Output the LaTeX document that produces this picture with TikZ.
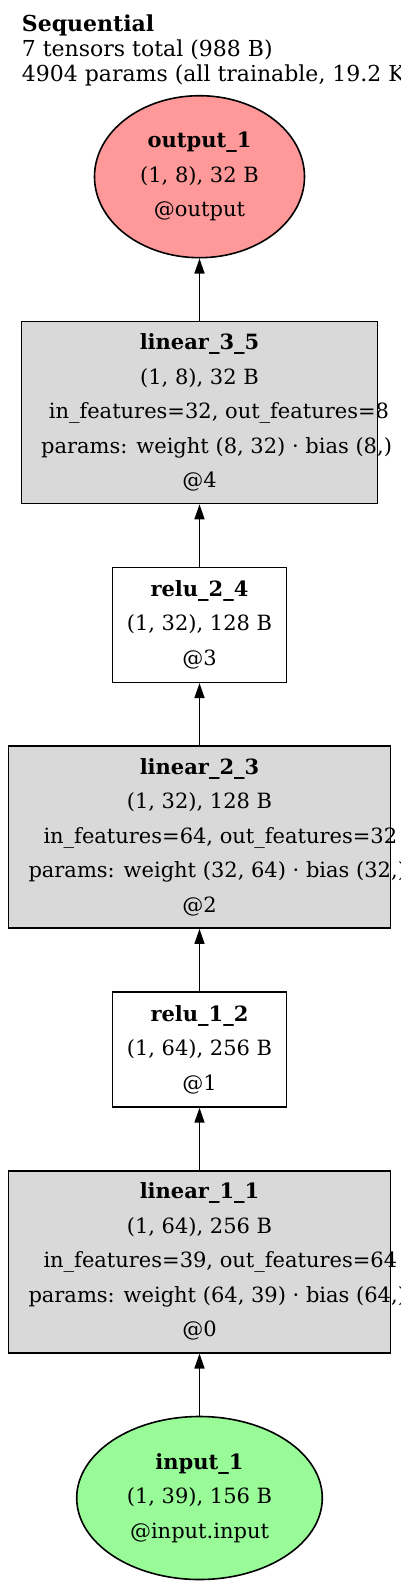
\documentclass[tikz,border=0pt]{standalone}
\usepackage{fontspec}
\setmainfont{DejaVu Serif}
\definecolor{outputRed}{RGB}{255,153,153}
\definecolor{inputGreen}{RGB}{152,251,152}
\definecolor{layerGray}{RGB}{217,217,217}
\usetikzlibrary{shapes,arrows.meta,positioning}

\begin{document}
\begin{tikzpicture}[
  x=1pt, y=-1pt,
  node distance=62.2pt,
  layer/.style={
    draw=black, fill=layerGray, line width=1.6pt, inner sep=0pt,
    align=center, font=\fontsize{21}{34.5}\selectfont,
    minimum width=381.7pt, minimum height=182pt
  },
  act/.style={
    draw=black, fill=white, line width=1.6pt, inner sep=0pt,
    align=center, font=\fontsize{21}{34.5}\selectfont,
    minimum width=174pt, minimum height=115pt
  },
  io/.style={
    ellipse, draw=black, line width=1.6pt, inner sep=0pt,
    align=center, font=\fontsize{21}{34.5}\selectfont
  },
  arr/.style={-{Triangle[length=15pt,width=10pt]}, draw=black, line width=1.6pt}
]
  \useasboundingbox (0,0) rectangle (400,1588);
  \node[anchor=north west, inner sep=0pt, align=left, font=\fontsize{22}{25}\selectfont] (title) at (21.7,15)
    {\textbf{Sequential}\\7 tensors total (988 B)\\4904 params (all trainable, 19.2 KB)};

  \node[io, fill=inputGreen, minimum width=245.6pt, minimum height=163pt] (input_1) at (199.5,1498)
    {\textbf{input\_1}\\(1, 39), 156 B\\@input.input};
  \node[layer, above=of input_1] (linear_1_1)
    {\textbf{linear\_1\_1}\\(1, 64), 256 B\\\makebox[312pt][l]{in\_features=39, out\_features=64}\\\makebox[342pt][l]{params: weight (64, 39) · bias (64,)}\\@0};
  \node[act, above=of linear_1_1] (relu_1_2)
    {\textbf{relu\_1\_2}\\(1, 64), 256 B\\@1};
  \node[layer, above=of relu_1_2] (linear_2_3)
    {\textbf{linear\_2\_3}\\(1, 32), 128 B\\\makebox[312pt][l]{in\_features=64, out\_features=32}\\\makebox[342pt][l]{params: weight (32, 64) · bias (32,)}\\@2};
  \node[act, above=of linear_2_3] (relu_2_4)
    {\textbf{relu\_2\_4}\\(1, 32), 128 B\\@3};
  \node[layer, above=of relu_2_4, minimum width=356pt] (linear_3_5)
    {\textbf{linear\_3\_5}\\(1, 8), 32 B\\\makebox[301.4pt][l]{in\_features=32, out\_features=8}\\\makebox[316.6pt][l]{params: weight (8, 32) · bias (8,)}\\@4};
  \node[io, fill=outputRed, minimum width=210pt, minimum height=162pt, above=of linear_3_5] (output_1)
    {\textbf{output\_1}\\(1, 8), 32 B\\@output};

  \draw[arr] (input_1)--(linear_1_1);
  \draw[arr] (linear_1_1)--(relu_1_2);
  \draw[arr] (relu_1_2)--(linear_2_3);
  \draw[arr] (linear_2_3)--(relu_2_4);
  \draw[arr] (relu_2_4)--(linear_3_5);
  \draw[arr] (linear_3_5)--(output_1);
\end{tikzpicture}
\end{document}
